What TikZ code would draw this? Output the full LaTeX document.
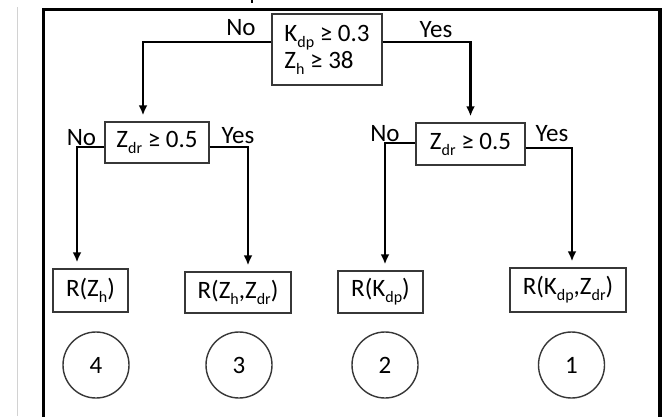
\documentclass[tikz,border=0pt]{standalone}
\usepackage{fontspec}
\setmainfont{Carlito}
\usetikzlibrary{arrows.meta}
\definecolor{boxgray}{RGB}{55,55,55}
\newcommand{\lowsub}[1]{\raisebox{-6pt}{\fontsize{16}{16}\selectfont #1}}
\tikzset{
  txt/.style={font=\fontsize{25}{27}\selectfont},
  box/.style={txt, draw=boxgray, line width=1.4pt, inner sep=0pt},
  num/.style={txt, circle, draw=boxgray, line width=1.4pt, inner sep=0pt, minimum size=66pt},
  lbl/.style={txt, inner sep=0pt, anchor=base},
  conn/.style={line width=2.4pt, -{Latex[length=10pt,width=9pt]}, shorten >=6pt}
}
\begin{document}
\begin{tikzpicture}[x=1pt,y=1pt,yscale=-1]
\useasboundingbox (0,0) rectangle (669,416);
\clip (0,0) rectangle (669,416);

%Frame
\draw [line width=3.5pt] (43.5,9.5) rectangle (660,430);
\draw [color=gray!35, line width=1pt] (17,7) -- (17,416);
\draw [line width=1.5pt] (252,0) -- (252,3);

% Decision boxes
\node [box, minimum width=110pt, minimum height=71pt, align=left] (root) at (327,49.5) {K\lowsub{dp} ≥ 0.3\\Z\lowsub{h} ≥ 38};
\node [box, minimum width=104pt, minimum height=41pt] (dl) at (157,142.5) {Z\lowsub{dr} ≥ 0.5};
\node [box, minimum width=109pt, minimum height=42pt] (dr) at (470.5,144) {Z\lowsub{dr} ≥ 0.5};

% Result boxes
\node [box, minimum width=75pt, minimum height=43pt] (r4) at (90.5,290.5) {R(Z\lowsub{h})};
\node [box, minimum width=106pt, minimum height=41pt] (r3) at (238,292.5) {R(Z\lowsub{h},Z\lowsub{dr})};
\node [box, minimum width=85pt, minimum height=42pt] (r2) at (380.5,292) {R(K\lowsub{dp})};
\node [box, minimum width=116pt, minimum height=44pt] (r1) at (568,290) {R(K\lowsub{dp},Z\lowsub{dr})};

% Numbers
\node [num] (c4) at (96,365) {4};
\node [num] (c3) at (239,365) {3};
\node [num] (c2) at (385,365) {2};
\node [num] (c1) at (571.5,365) {1};

% Connectors
\draw [conn] (root.west |- 0,42) -| (dl.north -| 143,0);
\draw [conn] (root.east |- 0,42) -| (dr.north);
\draw [conn] (dl.west |- 0,147) -| (r4.north -| 77,0);
\draw [conn] (dl.east |- 0,147) -| (r3.north -| 248,0);
\draw [conn] (dr.west |- 0,143) -| (r2.north -| 385,0);
\draw [conn] (dr.east |- 0,148) -| (r1.north -| 572,0);

% Labels
\node [lbl] (no0) at (241,35) {No};
\node [lbl] (yes0) at (436,37) {Yes};
\node [lbl] (no1) at (81.5,145) {No};
\node [lbl] (yes1) at (238,143) {Yes};
\node [lbl] (no2) at (385,141) {No};
\node [lbl] (yes2) at (552,141) {Yes};

\end{tikzpicture}
\end{document}
